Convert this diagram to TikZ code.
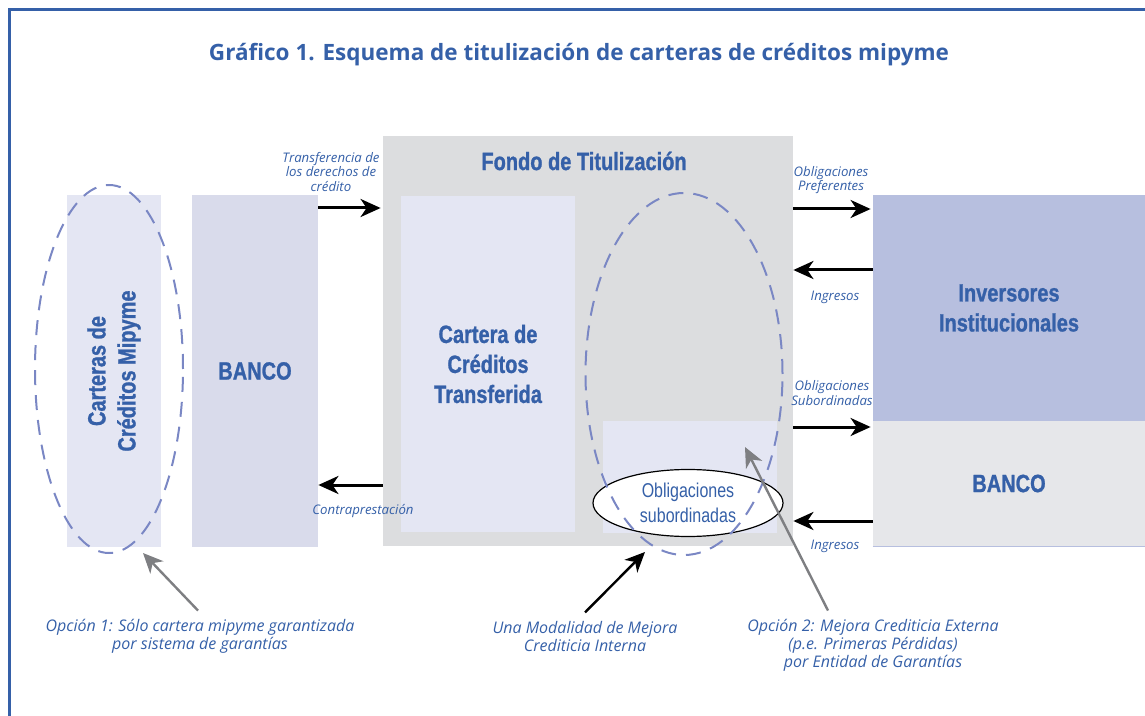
\documentclass[tikz,border=0pt]{standalone}
\usepackage{fontspec}
\setmainfont{Open Sans}
\newfontfamily\condfont[FakeStretch=0.8,BoldFeatures={FakeBold=1}]{Liberation Sans}
\usetikzlibrary{arrows.meta,shapes.geometric}
\definecolor{azul}{HTML}{3560A8}
\definecolor{lila}{HTML}{E4E6F3}
\definecolor{bancocol}{HTML}{D9DBEB}
\definecolor{fondocol}{HTML}{DCDDDF}
\definecolor{invcol}{HTML}{B7BFDF}
\definecolor{banco2col}{HTML}{E6E7EA}
\definecolor{trazo}{HTML}{7A87C4}
\definecolor{gris}{HTML}{7E7F82}
\tikzset{
  caja/.style={inner sep=0pt,align=center,text=azul,font=\condfont\bfseries\fontsize{12.5}{15}\selectfont},
  etiq/.style={inner sep=1pt,align=center,text=azul,font=\itshape\fontsize{6.6}{7.25}\selectfont},
  nota/.style={inner sep=2pt,align=center,text=azul,font=\itshape\fontsize{8}{9}\selectfont},
  elipse/.style={ellipse,draw=trazo,line width=1pt,dash pattern=on 7.5pt off 5pt,inner sep=0pt},
  flecha/.style={-{Stealth[length=10pt,width=9pt,inset=3pt]},line width=1.5pt},
  gflecha/.style={-{Stealth[length=10pt,width=9pt,inset=3pt]},line width=1.2pt,gris}
}
\begin{document}
\begin{tikzpicture}[x=0.5pt,y=-0.5pt]
\useasboundingbox (0,0) rectangle (1145,716);
\draw[azul,line width=1.5pt] (9,716) -- (9,10) -- (1145,10);
\node[text=azul,font=\bfseries\fontsize{11.25}{13}\selectfont] (tit) at (579,55) {Gráfico 1. Esquema de titulización de carteras de créditos mipyme};

\node[caja,fill=lila,rotate=90,minimum width=176pt,minimum height=47pt] (cart) at (114,371) {Carteras de\\Créditos Mipyme};
\node[caja,fill=bancocol,minimum width=63pt,minimum height=176pt] (banco) at (255,371) {BANCO};
\node[fill=fondocol,inner sep=0pt,minimum width=205pt,minimum height=205pt] (fondo) at (588,341) {};
\node[caja] (fondotit) at (584,161) {Fondo de Titulización};
\node[caja,fill=lila,minimum width=87pt,minimum height=168pt] (transf) at (488,364) {Cartera de\\Créditos\\Transferida};
\node[fill=lila,inner sep=0pt,minimum width=87pt,minimum height=56pt] (sub) at (690,477) {};
\node[caja,fill=invcol,minimum width=136pt,minimum height=113pt] (inv) at (1009,308) {Inversores\\Institucionales};
\node[caja,fill=banco2col,minimum width=136pt,minimum height=62.5pt] (banco2) at (1009,483.5) {BANCO};
\draw[invcol] (banco2.south west) -- (banco2.south east);

\node[ellipse,draw,fill=white,line width=0.6pt,inner sep=0pt,minimum width=95pt,minimum height=33.5pt,align=center,text=azul,font=\condfont\fontsize{10}{12.5}\selectfont] (obsub) at (688,503) {Obligaciones\\subordinadas};
\node[elipse,minimum width=74pt,minimum height=184pt] (opc1) at (109,369) {};
\node[elipse,minimum width=98.5pt,minimum height=181pt] (mejora) at (684,374) {};

\node[etiq] (ltransf) at (331,172) {Transferencia de\\los derechos de\\crédito};
\node[etiq] (lcontra) at (363,511) {Contraprestación};
\node[etiq] (lpref) at (831,180) {Obligaciones\\Preferentes};
\node[etiq] (ling1) at (835,297) {Ingresos};
\node[etiq] (lsub) at (832,393) {Obligaciones\\Subordinadas};
\node[etiq] (ling2) at (835,546) {Ingresos};

\draw[flecha,shorten >=1pt] (banco.east |- 0,208) -- (fondo.west |- 0,208);
\draw[flecha] (fondo.west |- 0,485) -- (banco.east |- 0,485);
\draw[flecha,shorten >=1pt] (fondo.east |- 0,209) -- (inv.west |- 0,209);
\draw[flecha] (inv.west |- 0,270) -- (fondo.east |- 0,270);
\draw[flecha,shorten >=1pt] (fondo.east |- 0,427) -- (banco2.west |- 0,427);
\draw[flecha] (banco2.west |- 0,521) -- (fondo.east |- 0,521);

\node[nota] (l1) at (200,636) {Opción 1: Sólo cartera mipyme garantizada\\por sistema de garantías};
\node[nota] (l2) at (585,636) {Una Modalidad de Mejora\\Crediticia Interna};
\node[nota] (l3) at (873,645) {Opción 2: Mejora Crediticia Externa\\(p.e. Primeras Pérdidas)\\por Entidad de Garantías};
\coordinate (p1) at (143,553);
\coordinate (p2) at (645,552);
\coordinate (p3) at (745,447);
\draw[gflecha] ([xshift=-1pt,yshift=2pt]l1.north) -- (p1);
\draw[flecha,line width=1.2pt] ([yshift=2pt]l2.north) -- (p2);
\draw[gflecha] ([xshift=-22.5pt,yshift=2pt]l3.north) -- (p3);
\end{tikzpicture}
\end{document}
